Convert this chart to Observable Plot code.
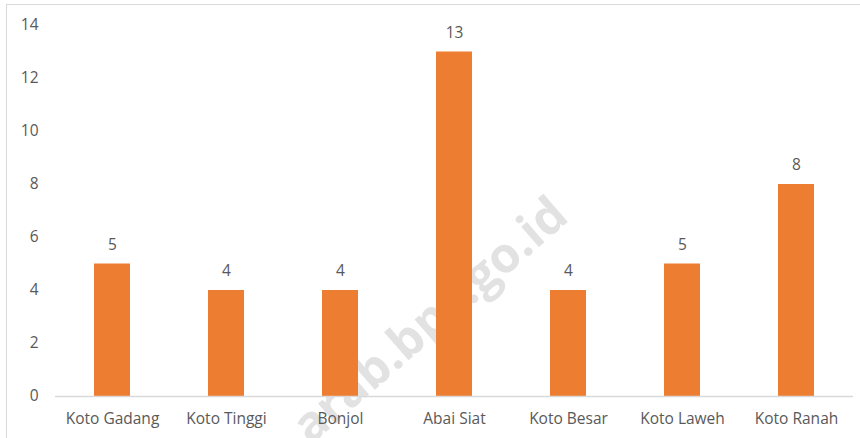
<!DOCTYPE html>
<html>
<head>
<meta charset="utf-8">
<script src="https://cdn.jsdelivr.net/npm/d3@7"></script>
<script src="https://cdn.jsdelivr.net/npm/@observablehq/plot@0.6"></script>
<style>
  html, body { margin: 0; padding: 0; background: #fff; overflow: hidden; }
  #wrap { position: relative; width: 860px; height: 438px; }
  #border { position: absolute; left: 6px; top: 4px; width: 900px; height: 500px; border: 1px solid #d9d9d9; pointer-events: none; }
</style>
</head>
<body>
<div id="wrap"><div id="border"></div></div>
<script>
const categories = ["Koto Gadang", "Koto Tinggi", "Bonjol", "Abai Siat", "Koto Besar", "Koto Laweh", "Koto Ranah"];
const values = [5, 4, 4, 13, 4, 5, 8];
const yTicks = [0, 2, 4, 6, 8, 10, 12, 14];
const watermark = ["arab.bps.go.id"];

const data = categories.map((c, i) => ({category: c, value: values[i]}));
const font = "'Open Sans', sans-serif";
const textColor = "#595959";

const chart = Plot.plot({
  width: 860,
  height: 438,
  marginLeft: 55,
  marginRight: 7,
  marginTop: 25,
  marginBottom: 42,
  style: {fontFamily: font, fontSize: "15.5px", color: textColor, background: "transparent"},
  x: {domain: categories, paddingInner: 0.684, paddingOuter: 0.342, label: null},
  y: {domain: [0, 14], label: null},
  marks: [
    Plot.text(watermark, {frameAnchor: "bottom", text: d => d, rotate: -41, dx: -14, dy: -64, fontSize: 49, fontWeight: "bold", fill: "#e2e2e2", fontFamily: font}),
    Plot.axisX({tickSize: 0, tickPadding: 16, label: null, fill: textColor}),
    Plot.axisY({ticks: yTicks, tickSize: 0, tickPadding: 17, label: null, fill: textColor}),
    Plot.barY(data, {x: "category", y: "value", fill: "#ED7D31"}),
    Plot.ruleY([0], {stroke: "#d9d9d9", strokeWidth: 1.5}),
    Plot.text(data, {x: "category", y: "value", text: d => String(d.value), dy: -19, fill: textColor, fontSize: 15.5})
  ]
});
document.getElementById("wrap").prepend(chart);
</script>
</body>
</html>
